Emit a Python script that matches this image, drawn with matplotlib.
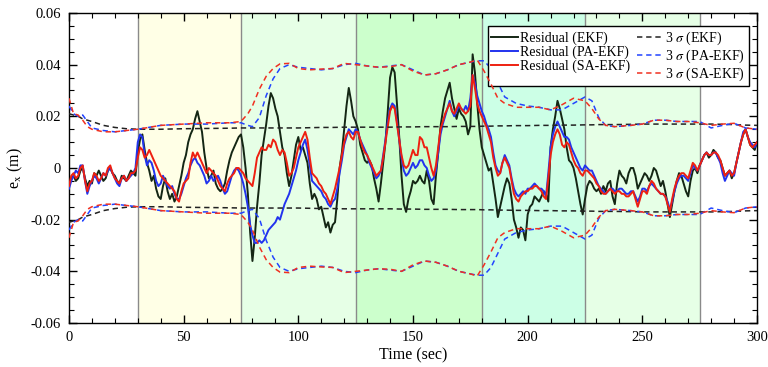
import matplotlib
matplotlib.use('Agg')
import matplotlib.pyplot as plt
import numpy as np
from matplotlib.ticker import MultipleLocator, FuncFormatter

plt.rcParams['font.family'] = 'Liberation Serif'
plt.rcParams['mathtext.fontset'] = 'stix'
plt.rcParams['axes.unicode_minus'] = False

# residuals in mm, one value per second (0..300 s)
t_res = np.arange(0, 301)

ekf_mm = [-6, -4, -3, -5, -4, -1, 0, -4, -7, -5,
          -6, -2, -3, -1, -3, -5, -4, -1, 0, -2,
          -3, -5, -6, -3, -4, -5, -3, -1, -2, -3,
          6, 11, 13, 7, 2, -1, -5, -3, -8, -11,
          -12, -7, -4, -9, -12, -10, -13, -11, -7, -3,
          2, 5, 10, 13, 15, 19, 22, 18, 14, 6,
          0, -4, -3, -1, -6, -8, -9, -8, -6, -1,
          3, 6, 8, 10, 12, 13, 8, 0, -10, -25,
          -36, -27, -15, -6, 5, 11, 17, 24, 29, 27,
          23, 20, 14, 8, 5, -2, -7, -3, 3, 9,
          12, 7, 8, 5, 2, -6, -12, -10, -12, -16,
          -15, -19, -23, -21, -25, -22, -21, -12, 0, 6,
          15, 24, 31, 26, 20, 18, 15, 9, 6, 3,
          2, 3, 1, -4, -8, -13, -6, 2, 10, 22,
          35, 39, 37, 25, 12, -3, -14, -17, -12, -9,
          -5, -6, -5, -3, -5, -6, -1, -5, -12, -14,
          -3, 6, 16, 22, 27, 30, 33, 27, 23, 19,
          23, 21, 20, 18, 13, 16, 44, 37, 25, 15,
          8, 5, 2, -1, 0, -6, -12, -19, -15, -11,
          -7, -4, -6, -12, -20, -23, -27, -23, -24, -28,
          -18, -15, -14, -11, -12, -13, -11, -9, -10, -13,
          8, 15, 20, 26, 23, 19, 15, 8, 3, 2,
          0, -4, -9, -14, -18, -12, -7, -5, -6, -8,
          -9, -8, -10, -7, -9, -6, -5, -11, -14, -6,
          -1, -3, -4, -6, -2, 0, 0, -3, -8, -6,
          -4, -2, -3, -5, -3, 0, -1, -4, -7, -5,
          -9, -14, -19, -14, -9, -5, -2, -3, -6, -9,
          -11, -5, -1, 0, -2, 1, 3, 5, 6, 4,
          5, 7, 6, 4, 3, 0, -3, -2, -1, -4,
          -2, 2, 6, 10, 13, 15, 12, 9, 8, 7,
          10]

pa_mm = [-8, -5, -3, -1, -2, 1, 1, -5, -10, -7,
         -5, -3, -4, -6, -4, -2, -3, -1, 0, -2,
         -4, -6, -7, -4, -3, -5, -4, -3, -2, 0,
         10, 13, 12, 5, 1, 3, 2, -1, -5, -7,
         -6, -3, -5, -7, -8, -7, -10, -12, -12, -10,
         -7, -4, -2, 1, 3, 4, 2, 1, -1, -3,
         -6, -5, -3, -5, -4, -3, -5, -8, -10, -9,
         -6, -3, -1, 0, -1, -3, -6, -10, -15, -22,
         -26, -29, -29, -28, -29, -28, -26, -24, -23, -22,
         -21, -19, -20, -17, -14, -12, -10, -7, -4, -1,
         3, 6, 9, 11, 7, 1, -5, -6, -7, -8,
         -9, -11, -12, -14, -15, -13, -12, -8, -2, 3,
         9, 12, 15, 14, 13, 15, 14, 11, 9, 7,
         5, 2, 0, -2, -4, -3, -1, 5, 11, 18,
         23, 25, 24, 18, 11, 4, -1, -3, -2, 0,
         2, 0, 1, 3, 3, 1, 0, -3, -5, -4,
         -1, 6, 13, 17, 20, 23, 26, 22, 20, 22,
         24, 23, 22, 24, 22, 27, 36, 33, 28, 25,
         22, 20, 17, 15, 12, 6, 1, -1, -2, 2,
         5, 3, 1, -4, -8, -10, -11, -10, -9, -10,
         -8, -8, -7, -6, -7, -8, -8, -9, -11, -2,
         8, 13, 16, 18, 16, 14, 12, 12, 11, 8,
         6, 4, 2, 0, -1, 1, 0, -1, -1, -3,
         -5, -7, -8, -9, -10, -9, -8, -8, -9, -9,
         -8, -8, -9, -10, -10, -9, -9, -11, -13, -11,
         -8, -8, -9, -7, -6, -7, -8, -9, -10, -10,
         -11, -13, -16, -13, -9, -6, -4, -3, -3, -4,
         -5, -2, 1, 0, -1, 1, 3, 5, 6, 5,
         5, 6, 6, 4, 2, -2, -5, -3, -1, -2,
         -3, 2, 6, 10, 14, 15, 12, 10, 9, 8,
         10]

sa_mm = [-7, -3, -2, -4, -3, 0, 1, -5, -9, -6,
         -5, -2, -3, -5, -4, -2, -3, 0, 1, -2,
         -4, -5, -6, -4, -3, -5, -4, -2, -2, -1,
         4, 8, 7, 4, 5, 7, 5, 3, 1, -1,
         -3, -4, -5, -6, -7, -8, -9, -12, -13, -9,
         -6, -5, -4, 2, 6, 4, 6, 4, 2, 0,
         -2, 0, -1, -2, -3, -5, -7, -8, -9, -6,
         -4, -3, -2, 0, 0, -1, -2, -4, -5, -6,
         -7, -2, 4, 6, 8, 7, 7, 9, 8, 11,
         10, 7, 5, 7, 6, 2, -3, -2, 0, 4,
         8, 10, 12, 14, 11, 4, -2, -3, -4, -6,
         -7, -9, -10, -12, -14, -11, -8, -4, 0, 5,
         10, 13, 14, 12, 11, 14, 14, 11, 8, 6,
         5, 3, 1, -1, -3, -2, -1, 4, 10, 16,
         22, 24, 23, 17, 11, 5, 1, 0, 1, 4,
         7, 5, 5, 12, 11, 8, 8, 4, 0, -3,
         1, 8, 15, 18, 21, 23, 25, 22, 21, 23,
         25, 23, 22, 21, 22, 24, 36, 31, 25, 22,
         20, 18, 16, 13, 10, 4, 0, -3, -2, 2,
         4, 2, 0, -5, -10, -12, -13, -11, -10, -9,
         -9, -8, -8, -7, -7, -8, -9, -11, -12, -4,
         5, 10, 13, 15, 13, 9, 8, 10, 9, 6,
         3, 1, 0, -2, -3, -1, -1, -2, -3, -4,
         -6, -7, -9, -10, -10, -9, -8, -9, -10, -9,
         -9, -10, -10, -11, -11, -10, -9, -12, -15, -12,
         -9, -9, -10, -7, -5, -6, -8, -9, -10, -10,
         -11, -14, -17, -12, -8, -5, -3, -2, -2, -3,
         -4, -1, 2, 1, -1, 1, 3, 5, 6, 5,
         5, 6, 6, 5, 3, 0, -3, -2, -1, -3,
         -2, 2, 6, 10, 13, 15, 12, 9, 8, 9,
         10]

# 3-sigma bounds (mm), upper side; lower side is the mirror
t_sig = [0, 2, 4, 6, 8, 10, 15, 20, 25, 30, 40, 50, 60, 70, 75, 78, 80, 83, 86, 89,
         92, 96, 100, 105, 110, 115, 120, 125, 130, 135, 140, 145, 150, 155, 160, 165,
         170, 175, 178, 181, 184, 187, 190, 195, 200, 205, 210, 215, 220, 225, 228,
         231, 234, 238, 245, 250, 255, 260, 265, 270, 275, 280, 285, 290, 295, 300]
sig_ekf = [21, 20.5, 20, 19, 18.5, 18, 16.5, 15.7, 15.2, 15, 15, 15.2, 15.3, 15.4, 15.5,
           15.5, 15.5, 15.5, 15.5, 15.5, 15.5, 15.5, 15.5, 15.6, 15.7, 15.7, 15.8, 15.8,
           15.8, 15.8, 15.8, 15.9, 15.9, 16, 16, 16, 16.1, 16.1, 16.1, 16.2, 16.2, 16.3,
           16.3, 16.4, 16.4, 16.5, 16.5, 16.6, 16.6, 16.7, 16.7, 16.8, 16.8, 16.8, 16.9,
           17, 17, 17, 17, 17, 17, 17, 16.9, 16.8, 16.6, 16.5]
sig_pa = [24, 21, 20, 20.5, 18, 15.5, 14.5, 14, 14.5, 15, 16.5, 17, 17, 17.5, 17.5,
          16.5, 16, 19.5, 28, 34.5, 38.5, 40, 39, 38.5, 38, 38.5, 40, 40.5, 39.5, 39,
          39.5, 40, 38, 36, 36.5, 38, 40, 41, 41.5, 41.5, 38.5, 33, 27.5, 25, 24, 23.5,
          22.5, 22.5, 25, 27.5, 26, 19.5, 16.5, 16, 16.5, 17, 18.5, 18.5, 18, 18, 18,
          15.5, 16.5, 17.3, 15.5, 15]
sig_sa = [27, 21, 20.5, 18.5, 16, 15, 14, 14, 14.5, 15, 16.5, 17, 17.5, 17.5, 18,
          21, 24, 30.5, 35.5, 38.5, 40.3, 40.5, 38.5, 38, 38.3, 38.5, 40.5, 40, 39.5,
          39, 39.2, 40, 37.5, 36, 36.5, 38, 40, 41, 41.8, 37.5, 32.5, 27, 25, 23.5, 23.5,
          23.5, 22.5, 24.5, 27, 26, 23, 19, 16.5, 16, 16.5, 17, 18.5, 18.5, 18, 18, 17.5,
          16.5, 17, 17.3, 15.5, 15]

# manoeuvre segments
seg_edges = [30, 75, 125, 180, 225, 275]
seg_colors = ['#FFFFE6', '#E6FFE6', '#CCFFCC', '#CCFFE6', '#E6FFE6']

ekf = np.array(ekf_mm) / 1000
pa = np.array(pa_mm) / 1000
sa = np.array(sa_mm) / 1000
s_ekf = np.array(sig_ekf) / 1000
s_pa = np.array(sig_pa) / 1000
s_sa = np.array(sig_sa) / 1000

fig = plt.figure(figsize=(7.68, 3.67), dpi=100)
ax = fig.add_axes([0.0898, 0.1199, 0.8959, 0.8447])

for i in range(len(seg_colors)):
    ax.axvspan(seg_edges[i], seg_edges[i + 1], color=seg_colors[i], lw=0, zorder=0)
for e in seg_edges:
    ax.axvline(e, color='#8a8a8a', lw=1.0, zorder=1)

c_ekf = '#142614'
c_pa = '#2233EE'
c_sa = '#EE2011'

ax.plot(t_res, ekf, color=c_ekf, lw=1.4, label='Residual (EKF)', zorder=2)
ax.plot(t_res, pa, color=c_pa, lw=1.4, label='Residual (PA-EKF)', zorder=3)
ax.plot(t_res, sa, color=c_sa, lw=1.4, label='Residual (SA-EKF)', zorder=4)

dash = (0, (3.5, 2.5))
ax.plot(t_sig, s_ekf, color='#222222', lw=1.1, ls=dash, label=r'3 $\sigma$ (EKF)', zorder=5)
ax.plot(t_sig, -s_ekf, color='#222222', lw=1.1, ls=dash, zorder=5)
ax.plot(t_sig, s_pa, color='#2244FF', lw=1.1, ls=dash, label=r'3 $\sigma$ (PA-EKF)', zorder=5)
ax.plot(t_sig, -s_pa, color='#2244FF', lw=1.1, ls=dash, zorder=5)
ax.plot(t_sig, s_sa, color='#F03020', lw=1.1, ls=dash, label=r'3 $\sigma$ (SA-EKF)', zorder=6)
ax.plot(t_sig, -s_sa, color='#F03020', lw=1.1, ls=dash, zorder=6)

ax.set_xlim(0, 300)
ax.set_ylim(-0.06, 0.06)
ax.xaxis.set_major_locator(MultipleLocator(50))
ax.xaxis.set_minor_locator(MultipleLocator(10))
ax.yaxis.set_major_locator(MultipleLocator(0.02))
ax.yaxis.set_minor_locator(MultipleLocator(0.005))
ax.yaxis.set_major_formatter(FuncFormatter(lambda v, p: '0' if abs(v) < 1e-9 else f'{v:.2f}'))
ax.tick_params(which='both', direction='in', top=True, right=True, labelsize=10.5, colors='black')
ax.tick_params(which='major', length=6, width=1, pad=6)
ax.tick_params(which='minor', length=3.5, width=0.8)
for s in ax.spines.values():
    s.set_linewidth(1.0)

ax.set_xlabel('Time (sec)', fontsize=11.5, labelpad=2)
ax.set_ylabel(r'e$_{\rm x}$ (m)', fontsize=11.5, labelpad=4)

leg = ax.legend(ncol=2, loc='upper right', bbox_to_anchor=(0.988, 0.958), borderaxespad=0,
                fontsize=10, fancybox=False, framealpha=1, edgecolor='black',
                handlelength=1.9, handletextpad=0.15, columnspacing=0.5,
                labelspacing=0.05, borderpad=0.25)
leg.get_frame().set_linewidth(1.0)

fig.savefig('out.png', dpi=100)
